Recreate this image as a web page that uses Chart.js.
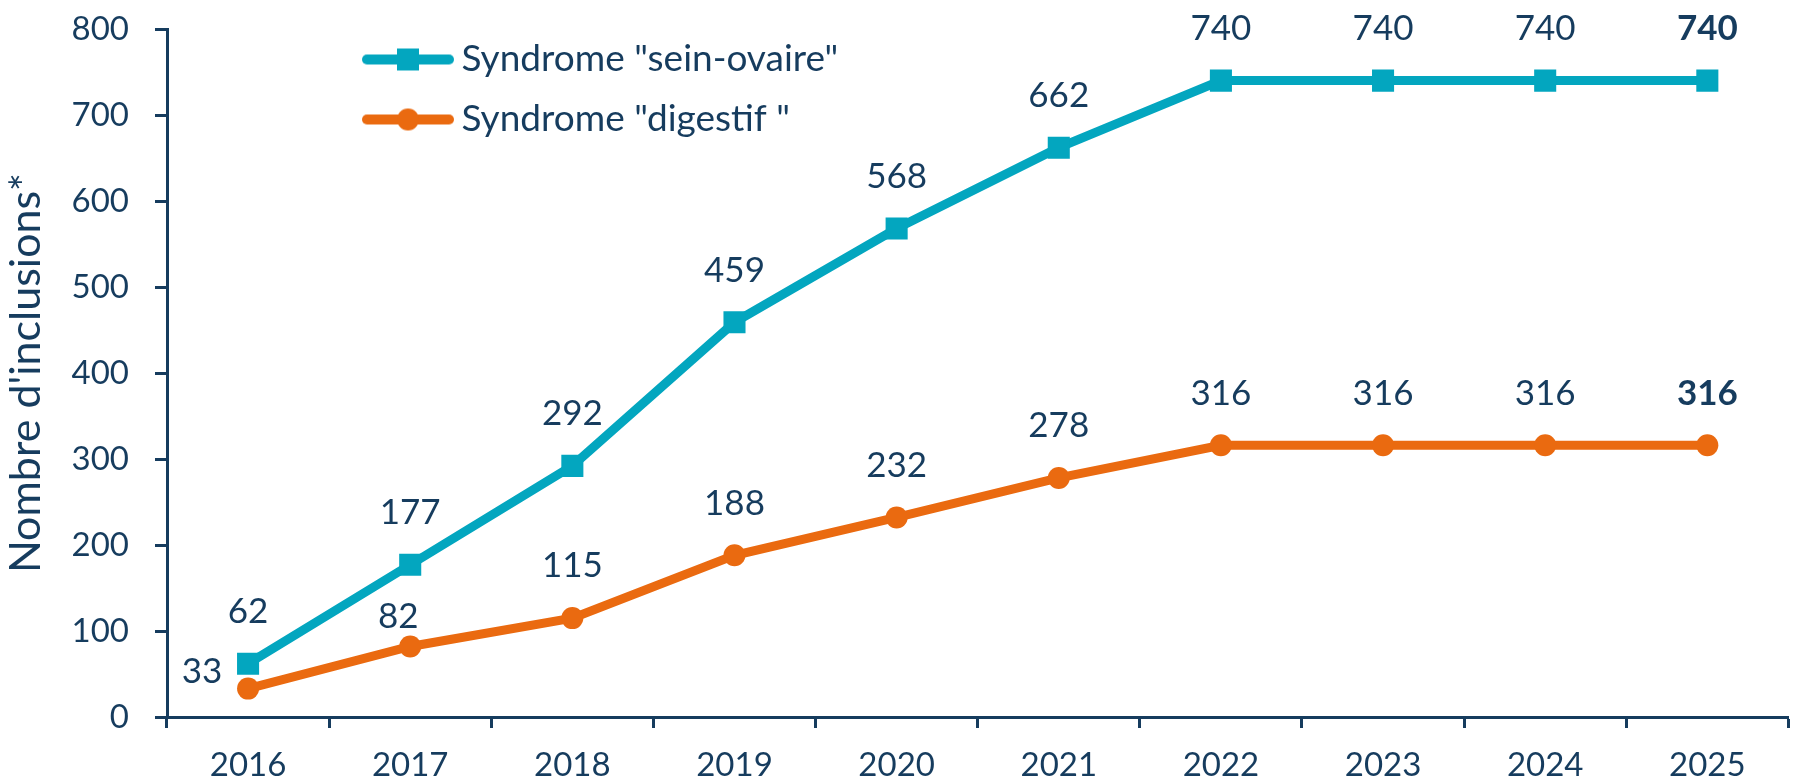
<!DOCTYPE html>
<html>
<head>
<meta charset="utf-8">
<script src="https://cdn.jsdelivr.net/npm/chart.js@4.4.1/dist/chart.umd.min.js"></script>
<style>
  html, body { margin: 0; padding: 0; background: #ffffff; }
  #wrap { width: 1804px; height: 783px; }
</style>
</head>
<body>
<div id="wrap"><canvas id="inclusionsChart" width="1804" height="783"></canvas></div>
<script>
// Values
const years = ['2016', '2017', '2018', '2019', '2020', '2021', '2022', '2023', '2024', '2025'];
const seinOvaire = [62, 177, 292, 459, 568, 662, 740, 740, 740, 740];
const digestif = [33, 82, 115, 188, 232, 278, 316, 316, 316, 316];
const seriesNames = ['Syndrome "sein-ovaire"', 'Syndrome "digestif "'];
const yTicks = [0, 100, 200, 300, 400, 500, 600, 700, 800];

const NAVY = '#163c5e';
const TEAL = '#03a6bf';
const ORANGE = '#ea6a10';
const FONT = 'Lato';

// label nudges (dx, dy relative to the point), default is straight above
const labelShift = {
    '1-0': { dx: -46, dy: -17 },
    '1-1': { dx: -12, dy: -30 }
};

// small line+marker images for the legend
function legendMarker(color, shape) {
    const c = document.createElement('canvas');
    c.width = 92;
    c.height = 26;
    const g = c.getContext('2d');
    g.strokeStyle = color;
    g.lineWidth = 10;
    g.lineCap = 'round';
    g.beginPath();
    g.moveTo(5, 13);
    g.lineTo(87, 13);
    g.stroke();
    g.fillStyle = color;
    if (shape === 'rect') {
        g.fillRect(35, 2, 22, 22);
    } else {
        g.beginPath();
        g.arc(46, 13, 11, 0, Math.PI * 2);
        g.fill();
    }
    return c;
}
const legendImages = [legendMarker(TEAL, 'rect'), legendMarker(ORANGE, 'circle')];

const valueLabels = {
    id: 'valueLabels',
    afterDatasetsDraw(chart) {
        const ctx = chart.ctx;
        ctx.save();
        ctx.fillStyle = NAVY;
        ctx.textAlign = 'center';
        ctx.textBaseline = 'middle';
        chart.data.datasets.forEach((ds, di) => {
            const meta = chart.getDatasetMeta(di);
            meta.data.forEach((pt, i) => {
                const shift = labelShift[di + '-' + i] || { dx: 0, dy: -52 };
                const last = i === ds.data.length - 1;
                ctx.font = (last ? 'bold ' : '') + '35px ' + FONT;
                ctx.fillText(String(ds.data[i]), pt.x + shift.dx, pt.y + shift.dy);
            });
        });
        ctx.restore();
    }
};

// put the legend inside the plot, upper left
const legendPlacer = {
    id: 'legendPlacer',
    afterLayout(chart) {
        const lg = chart.legend;
        if (!lg) return;
        lg.left = 350;
        lg.top = 18;
        lg.right = lg.left + 700;
        lg.bottom = lg.top + 400;
    }
};

const ctx = document.getElementById('inclusionsChart').getContext('2d');
const chart = new Chart(ctx, {
    type: 'line',
    data: {
        labels: years,
        datasets: [
            {
                label: seriesNames[0],
                data: seinOvaire,
                borderColor: TEAL,
                backgroundColor: TEAL,
                borderWidth: 9,
                pointStyle: 'rect',
                pointRadius: 15.6,
                pointBackgroundColor: TEAL,
                pointBorderWidth: 0,
                tension: 0
            },
            {
                label: seriesNames[1],
                data: digestif,
                borderColor: ORANGE,
                backgroundColor: ORANGE,
                borderWidth: 9,
                pointStyle: 'circle',
                pointRadius: 11,
                pointBackgroundColor: ORANGE,
                pointBorderWidth: 0,
                tension: 0
            }
        ]
    },
    options: {
        responsive: false,
        devicePixelRatio: 1,
        animation: false,
        events: [],
        layout: {
            padding: { left: 0, right: 11, top: 29, bottom: 0 }
        },
        plugins: {
            tooltip: { enabled: false },
            legend: {
                position: 'chartArea',
                align: 'start',
                labels: {
                    usePointStyle: true,
                    pointStyleWidth: 70,
                    boxHeight: 24,
                    padding: 23,
                    textAlign: 'left',
                    color: NAVY,
                    font: { family: FONT, size: 37 },
                    generateLabels(ch) {
                        const items = Chart.defaults.plugins.legend.labels.generateLabels(ch);
                        items.forEach((it, i) => { it.pointStyle = legendImages[i]; });
                        return items;
                    }
                }
            }
        },
        scales: {
            x: {
                offset: true,
                grid: {
                    offset: true,
                    drawOnChartArea: false,
                    drawTicks: true,
                    tickLength: 11,
                    tickWidth: 3,
                    tickColor: NAVY
                },
                border: { display: true, color: NAVY, width: 3 },
                ticks: {
                    color: NAVY,
                    padding: 18,
                    font: { family: FONT, size: 33 },
                    maxRotation: 0
                },
                afterFit(scale) { scale.height = 66; }
            },
            y: {
                min: 0,
                max: 800,
                afterBuildTicks(scale) {
                    scale.ticks = yTicks.map(v => ({ value: v }));
                },
                grid: {
                    drawOnChartArea: false,
                    drawTicks: true,
                    tickLength: 12,
                    tickWidth: 3,
                    tickColor: NAVY
                },
                border: { display: true, color: NAVY, width: 3 },
                ticks: {
                    color: NAVY,
                    padding: 26,
                    font: { family: FONT, size: 33 }
                },
                title: {
                    display: true,
                    text: "Nombre d'inclusions*",
                    color: NAVY,
                    padding: { top: 2, bottom: 0 },
                    font: { family: FONT, size: 43, lineHeight: 1.1 }
                },
                afterFit(scale) {
                    scale.width = 167;
                    // tick padding would otherwise push the plot top down
                    scale.paddingTop = 0;
                    scale.paddingBottom = 0;
                }
            }
        }
    },
    plugins: [valueLabels, legendPlacer]
});
</script>
</body>
</html>
